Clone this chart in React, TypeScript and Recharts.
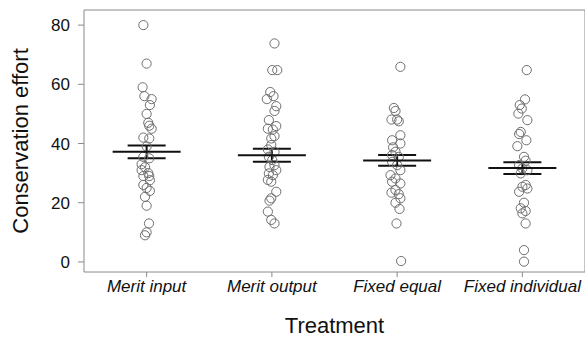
/**
 * Conservation effort by treatment — jittered strip plot of individual
 * responses with the group mean (wide bar) and ±1 SE (capped whiskers).
 */

import {
  ErrorBar,
  Label,
  ReferenceLine,
  Scatter,
  ScatterChart,
  XAxis,
  YAxis,
} from "recharts";

// ---------------------------------------------------------------------------
// Data (jitter is in category units)
// ---------------------------------------------------------------------------

const TREATMENTS = ["Merit input", "Merit output", "Fixed equal", "Fixed individual"];
const Y_TICKS = [0, 20, 40, 60, 80];
const Y_MIN = -3.4;
const Y_MAX = 85.1;

const meritInputValues = [80, 67, 59, 56, 55, 53, 50, 47, 46, 45, 42, 41.7, 39, 35.5, 35, 33, 32, 31, 30, 29, 29, 27.6, 26, 25, 24, 22, 19, 13, 10, 9];
const meritInputJitter = [-0.026, 0, -0.032, -0.018, 0.04, 0.026, 0, 0.013, 0.021, 0.04, -0.026, 0.021, 0, -0.026, 0.021, -0.04, -0.013, -0.04, 0.013, 0.021, -0.026, 0.026, -0.026, 0, 0.026, -0.013, 0, 0.019, 0, -0.013];

const meritOutputValues = [73.8, 64.8, 64.8, 57.4, 56, 55, 52.6, 51, 47.9, 45.9, 45, 44.7, 42.5, 41.7, 39.5, 38, 37.2, 35.5, 34.4, 32.7, 32.1, 31, 29.9, 29.3, 27.7, 27.1, 23.7, 21.5, 20.7, 17, 14.2, 13];
const meritOutputJitter = [0.021, 0.003, 0.043, -0.013, 0.013, -0.04, 0.035, 0.021, -0.024, 0.035, -0.032, 0.008, 0.021, -0.005, -0.005, -0.032, 0.021, -0.024, 0.003, 0.021, -0.019, 0.035, -0.024, 0.008, -0.032, -0.005, 0.035, -0.005, -0.019, -0.032, -0.005, 0.021];

const fixedEqualValues = [65.9, 52, 51, 48.1, 48.1, 47.5, 42.8, 41.1, 40, 38.7, 37.2, 36.1, 35.5, 33.8, 32.7, 31, 29.3, 28.2, 27.1, 26.5, 24.3, 23.4, 22.9, 21.5, 20, 17.9, 13, 0.3];
const fixedEqualJitter = [0.026, -0.026, -0.013, -0.045, 0, 0.013, 0.026, -0.04, 0.026, -0.032, -0.013, -0.04, 0.013, -0.04, 0, 0.026, -0.053, -0.013, -0.04, 0.026, -0.013, -0.045, 0.013, 0.026, -0.013, 0.019, -0.005, 0.032];

const fixedIndividualValues = [64.8, 54.9, 53, 51.8, 50.1, 47.9, 43.9, 43.2, 41.1, 39.1, 35.5, 34.2, 32.7, 31.6, 31, 29.9, 26, 25.4, 24.8, 23.7, 20, 18.1, 17.2, 16.4, 13, 4, 0.1];
const fixedIndividualJitter = [0.035, 0.021, -0.021, -0.005, -0.032, 0.04, -0.013, -0.026, 0.032, -0.04, 0.013, 0.026, -0.026, 0, 0.04, -0.013, 0.026, 0, 0.04, -0.026, 0.013, -0.013, 0.026, 0, 0.026, 0.013, 0.013];

const GROUP_MEANS = [37.2, 36.0, 34.3, 31.7];
const GROUP_SE = [2.15, 2.2, 1.8, 2.0];

// ---------------------------------------------------------------------------
// Derived rows
// ---------------------------------------------------------------------------

const groups = [
  [meritInputValues, meritInputJitter],
  [meritOutputValues, meritOutputJitter],
  [fixedEqualValues, fixedEqualJitter],
  [fixedIndividualValues, fixedIndividualJitter],
] as const;

const points = groups.flatMap(([values, jitter], g) =>
  values.map((y, i) => ({ x: g + 1 + (jitter[i] ?? 0), y }))
);

const means = GROUP_MEANS.map((y, i) => ({ x: i + 1, y, se: GROUP_SE[i] }));

// ---------------------------------------------------------------------------
// Styling
// ---------------------------------------------------------------------------

const FONT = "'Liberation Sans', Arial, sans-serif";
const AXIS_GREY = "#8a8a8a";
const POINT_GREY = "#6f6f6f";
const INK = "#111";

function OpenCircle(props: { cx?: number; cy?: number }) {
  const { cx, cy } = props;
  if (cx == null || cy == null) return null;
  return <circle cx={cx} cy={cy} r={4.6} fill="none" stroke={POINT_GREY} strokeWidth={1} />;
}

function MeanBar(props: { cx?: number; cy?: number }) {
  const { cx, cy } = props;
  if (cx == null || cy == null) return null;
  return <line x1={cx - 34} x2={cx + 34} y1={cy} y2={cy} stroke={INK} strokeWidth={2} />;
}

export default function App() {
  return (
    <div style={{ position: "absolute", left: 0, top: 0, width: 585, height: 338, background: "#fff" }}>
      <ScatterChart width={585} height={338} margin={{ top: 10, right: 0, bottom: 0, left: 0 }}>
        <XAxis
          type="number"
          dataKey="x"
          domain={[0.5, 4.5]}
          ticks={[1, 2, 3, 4]}
          tickFormatter={(v: number) => TREATMENTS[v - 1] ?? ""}
          interval={0}
          height={66}
          stroke={AXIS_GREY}
          tickSize={5}
          tickMargin={3}
          tick={{ fill: INK, fontSize: 17, fontStyle: "italic", fontFamily: FONT }}
          allowDataOverflow
        >
          <Label
            value="Treatment"
            position="insideBottom"
            offset={5}
            style={{ fill: INK, fontSize: 22, fontFamily: FONT }}
          />
        </XAxis>
        <YAxis
          type="number"
          dataKey="y"
          domain={[Y_MIN, Y_MAX]}
          ticks={Y_TICKS}
          width={84}
          stroke={AXIS_GREY}
          tickSize={6}
          tickMargin={8}
          tick={{ fill: INK, fontSize: 17, fontFamily: FONT }}
          allowDataOverflow
        >
          <Label
            content={() => (
              <text
                x={28}
                y={141}
                transform="rotate(-90 28 141)"
                textAnchor="middle"
                style={{ fill: INK, fontSize: 22, fontFamily: FONT }}
              >
                Conservation effort
              </text>
            )}
          />
        </YAxis>
        <ReferenceLine y={Y_MAX} stroke={AXIS_GREY} strokeWidth={1} />
        <ReferenceLine x={4.5} stroke={AXIS_GREY} strokeWidth={1} />
        <Scatter data={points} shape={<OpenCircle />} isAnimationActive={false} />
        <Scatter data={means} shape={<MeanBar />} isAnimationActive={false}>
          <ErrorBar dataKey="se" direction="y" width={19} stroke={INK} strokeWidth={2} isAnimationActive={false} />
        </Scatter>
      </ScatterChart>
    </div>
  );
}
